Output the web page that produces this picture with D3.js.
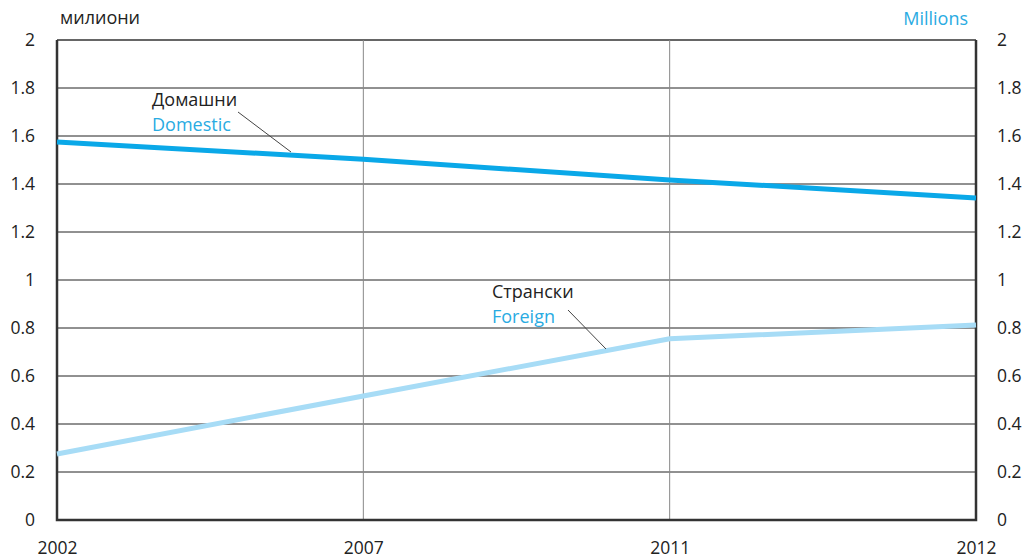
<!DOCTYPE html>
<html>
<head>
<meta charset="utf-8">
<script src="https://cdn.jsdelivr.net/npm/d3@7"></script>
<style>
  body { margin: 0; background: #fff; }
  svg { display: block; font-family: "Open Sans", sans-serif; }
</style>
</head>
<body>
<svg width="1026" height="560"></svg>
<script>
const years = ['2002', '2007', '2011', '2012'];
const domestic = [1.575, 1.503, 1.417, 1.342];
const foreign = [0.275, 0.517, 0.755, 0.812];
const yTicks = [0, 0.2, 0.4, 0.6, 0.8, 1, 1.2, 1.4, 1.6, 1.8, 2];

let svg = d3.select('svg');
const plotL = 57, plotR = 976, plotT = 40, plotB = 520;

const x = d3.scalePoint().domain(years).range([plotL, plotR]);
const y = d3.scaleLinear().domain([0, 2]).range([plotB, plotT]);

// horizontal grid
svg.append('g')
  .selectAll('line')
  .data(yTicks.slice(1))
  .enter()
  .append('line')
  .attr('x1', plotL).attr('x2', plotR)
  .attr('y1', d => y(d)).attr('y2', d => y(d))
  .attr('stroke', d => d === 2 ? '#333' : '#222')
  .attr('stroke-width', d => d === 2 ? 1.5 : 1);

// vertical grid (inner years)
svg.append('g')
  .selectAll('line')
  .data(years.slice(1, 3))
  .enter()
  .append('line')
  .attr('x1', d => x(d)).attr('x2', d => x(d))
  .attr('y1', plotT).attr('y2', plotB)
  .attr('stroke', '#888')
  .attr('stroke-width', 1);

// frame
svg.append('path')
  .attr('d', `M${plotL},${plotT}V${plotB}H${plotR}V${plotT}`)
  .attr('fill', 'none')
  .attr('stroke', '#333')
  .attr('stroke-width', 2.5);

// tick labels
const axisL = d3.axisLeft(y).tickValues(yTicks).tickSize(0).tickPadding(22).tickFormat(d3.format('~g'));
const axisR = d3.axisRight(y).tickValues(yTicks).tickSize(0).tickPadding(21).tickFormat(d3.format('~g'));
const axisB = d3.axisBottom(x).tickSize(0).tickPadding(22);

[[axisL, `translate(${plotL},0)`], [axisR, `translate(${plotR},0)`], [axisB, `translate(0,${plotB})`]]
  .forEach(([ax, tr]) => {
    let g = svg.append('g').attr('transform', tr).call(ax);
    g.select('.domain').remove();
    g.selectAll('text').attr('font-size', 17.5).attr('fill', '#222').attr('font-family', '"Open Sans", sans-serif');
  });

// lines
const line = d3.line().x((d, i) => x(years[i])).y(d => y(d));
svg.append('path').datum(foreign).attr('d', line)
  .attr('fill', 'none').attr('stroke', '#a7dcf6').attr('stroke-width', 5);
svg.append('path').datum(domestic).attr('d', line)
  .attr('fill', 'none').attr('stroke', '#0aa8e8').attr('stroke-width', 5);

// units
svg.append('text').attr('x', 60).attr('y', 24).text('милиони')
  .attr('font-size', 18).attr('fill', '#222');
svg.append('text').attr('x', 968).attr('y', 25).attr('text-anchor', 'end').text('Millions')
  .attr('font-size', 18).attr('fill', '#29abe2');

// series labels with leader lines
const labels = [
  { bg: 'Домашни', en: 'Domestic', lx: 152, ly: 106, x1: 238, y1: 112, x2: 291, y2: 152 },
  { bg: 'Странски', en: 'Foreign', lx: 492, ly: 298, x1: 568, y1: 310, x2: 606, y2: 349 }
];
labels.forEach(l => {
  svg.append('text').attr('x', l.lx).attr('y', l.ly).text(l.bg)
    .attr('font-size', 18).attr('fill', '#222');
  svg.append('text').attr('x', l.lx).attr('y', l.ly + 25).text(l.en)
    .attr('font-size', 18).attr('fill', '#29abe2');
  svg.append('line').attr('x1', l.x1).attr('y1', l.y1).attr('x2', l.x2).attr('y2', l.y2)
    .attr('stroke', '#444').attr('stroke-width', 1);
});
</script>
</body>
</html>
